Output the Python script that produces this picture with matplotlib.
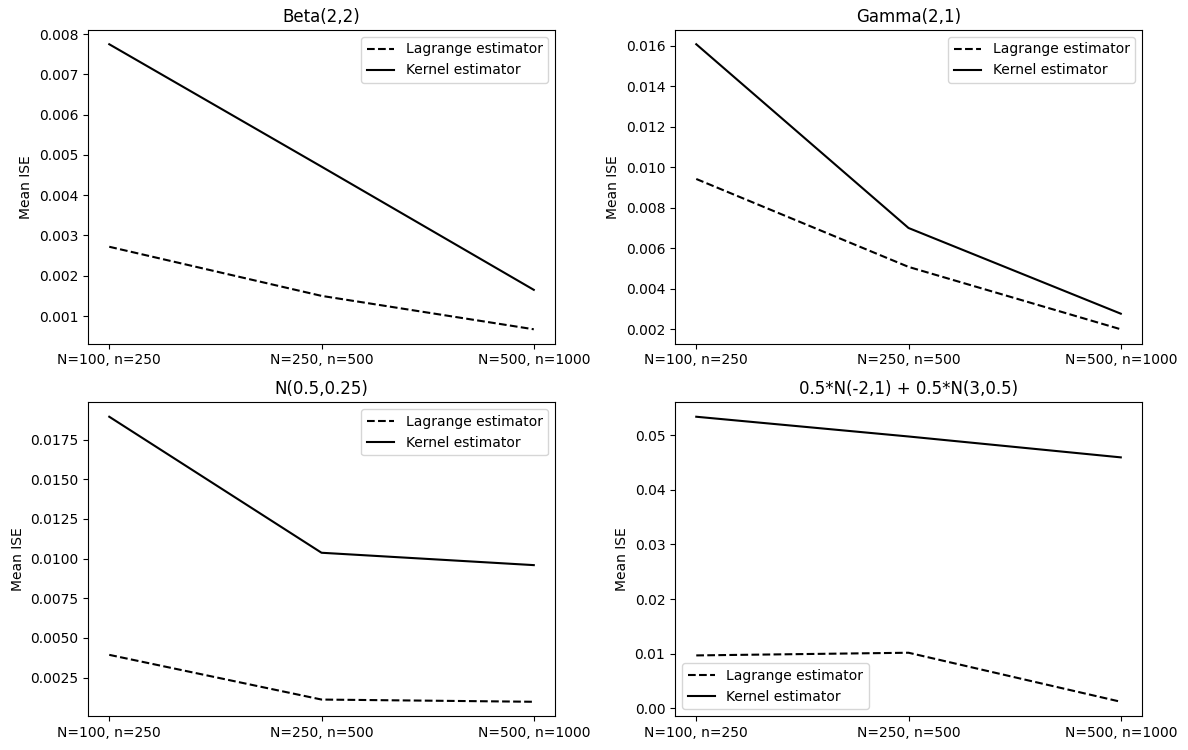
import numpy as np
import matplotlib
matplotlib.use("Agg")
import matplotlib.pyplot as plt

# sample size settings on the x axis
settings = ["N=100, n=250", "N=250, n=500", "N=500, n=1000"]

# mean ISE
beta_lagrange = [0.00272, 0.00150, 0.00067]
beta_kernel = [0.00775, 0.00471, 0.00165]

gamma_lagrange = [0.00942, 0.00508, 0.00200]
gamma_kernel = [0.01607, 0.00700, 0.00277]

normal_lagrange = [0.00393, 0.00111, 0.00097]
normal_kernel = [0.01895, 0.01037, 0.00959]

mix_lagrange = [0.00966, 0.01015, 0.00116]
mix_kernel = [0.05342, 0.04980, 0.04597]

titles = ["Beta(2,2)", "Gamma(2,1)", "N(0.5,0.25)", "0.5*N(-2,1) + 0.5*N(3,0.5)"]
lagrange = [beta_lagrange, gamma_lagrange, normal_lagrange, mix_lagrange]
kernel = [beta_kernel, gamma_kernel, normal_kernel, mix_kernel]
legend_loc = ["upper right", "upper right", "upper right", "lower left"]

fig, axes = plt.subplots(2, 2, figsize=(11.88, 7.5), dpi=100)

for ax, title, lag, ker, loc in zip(axes.flat, titles, lagrange, kernel, legend_loc):
    ax.plot(settings, lag, "k--", label="Lagrange estimator")
    ax.plot(settings, ker, "k-", label="Kernel estimator")
    ax.set_title(title)
    ax.set_ylabel("Mean ISE")
    ax.legend(loc=loc)

plt.subplots_adjust(left=0.0741, right=0.9613, top=0.96, bottom=0.0453,
                    wspace=0.257, hspace=0.188)
plt.savefig("out.png")
